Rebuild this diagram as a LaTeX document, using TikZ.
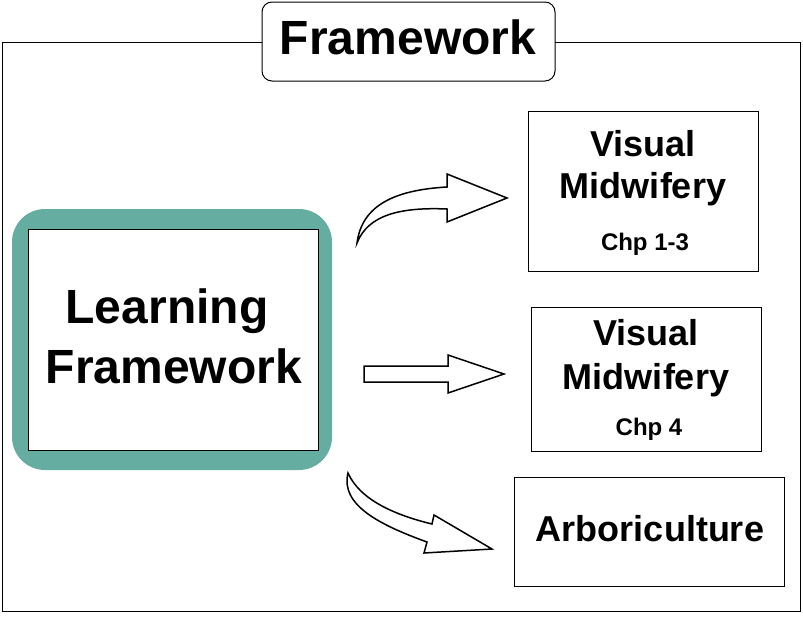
\documentclass[tikz,border=0pt]{standalone}
\usepackage{fontspec}
\setmainfont{Liberation Sans}
\definecolor{lfteal}{RGB}{102,173,161}
\newcommand{\fsz}[1]{\fontsize{#1}{1.2\dimexpr#1pt\relax}\selectfont\bfseries}

\begin{document}
\begin{tikzpicture}[x=1pt, y=-1pt,
  box/.style = {draw, line width=1pt, fill=white, inner sep=0pt},
  lbl/.style = {anchor=base, inner sep=0pt},
  blockarrow/.style = {draw, line width=1.5pt, fill=white, line join=miter}]
  \useasboundingbox (0,0) rectangle (803,616);

  % Outer frame
  \draw[line width=1pt] (2,42) rectangle (800,611);

  % Title
  \node[box, rounded corners=10pt, minimum width=293pt, minimum height=79pt] (title) at (408.5,41.5) {};
  \node[lbl, font=\fsz{48}] (titletext) at (408,54) {Framework};

  % Learning framework
  \node[fill=lfteal, rounded corners=33pt, minimum width=320pt, minimum height=261pt] (lfouter) at (172,339.5) {};
  \node[box, minimum width=290pt, minimum height=221pt] (lf) at (173.5,339.5) {};
  \node[lbl, font=\fsz{48}] (lfa) at (167,323) {Learning};
  \node[lbl, font=\fsz{48}] (lfb) at (174,383) {Framework};

  % First box
  \node[box, minimum width=230pt, minimum height=160pt] (vmA) at (643,191) {};
  \node[lbl, font=\fsz{36}] (vmAa) at (643,156) {Visual};
  \node[lbl, font=\fsz{36}] (vmAb) at (643,198) {Midwifery};
  \node[lbl, font=\fsz{24}] (vmAc) at (645,250) {Chp 1-3};

  % Second box
  \node[box, minimum width=230pt, minimum height=144pt] (vmB) at (646,379) {};
  \node[lbl, font=\fsz{36}] (vmBa) at (646,345) {Visual};
  \node[lbl, font=\fsz{36}] (vmBb) at (646,389) {Midwifery};
  \node[lbl, font=\fsz{24}] (vmBc) at (649,435) {Chp 4};

  % Third box
  \node[box, minimum width=270pt, minimum height=109pt] (arb) at (649,531.5) {};
  \node[lbl, font=\fsz{36}] (arbtext) at (650,541) {Arboriculture};

  % Curved arrow up
  \draw[blockarrow] (357,243) .. controls (362,205) and (395,190) .. (447,187)
    -- (447,174) -- (507,198) -- (447,222) -- (447,209)
    .. controls (400,207) and (368,215) .. (357,243) -- cycle;

  % Straight arrow
  \draw[blockarrow] (364,366) -- (448,366) -- (448,355) -- (504,374)
    -- (448,393) -- (448,382) -- (364,382) -- cycle;

  % Curved arrow down
  \draw[blockarrow] (348,473) .. controls (360,500) and (395,515) .. (432,524)
    -- (434,515) -- (492,549) -- (424,553) -- (427,542)
    .. controls (380,525) and (340,505) .. (348,473) -- cycle;

\end{tikzpicture}
\end{document}
